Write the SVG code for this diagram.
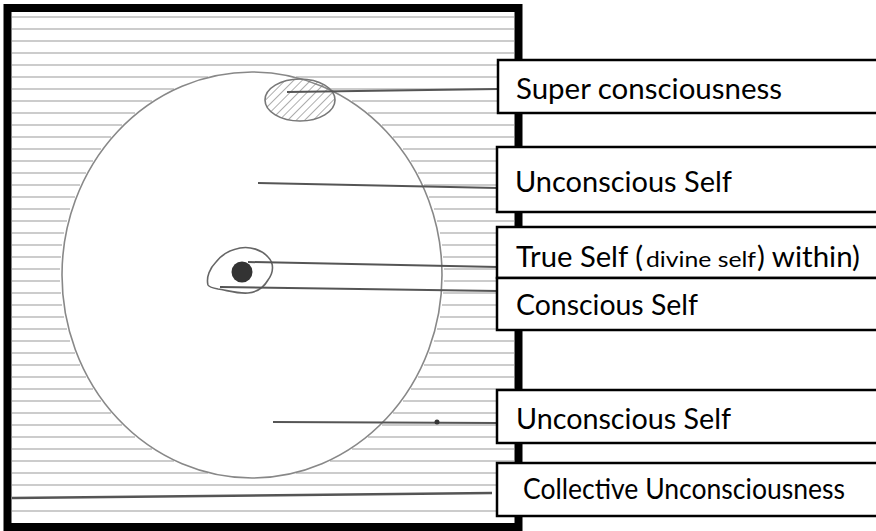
<svg xmlns="http://www.w3.org/2000/svg" width="876" height="531" viewBox="0 0 876 531">
<style>
.hatch{stroke:#9a9a9a;stroke-width:1.2;fill:none}
.conn{stroke:#555;stroke-width:2;fill:none}
.box{fill:#fff;stroke:#000;stroke-width:2.5}
.lbl{font-family:Lato,"Open Sans","Liberation Sans",sans-serif;font-size:29px;fill:#000}
.small{font-size:21px}
</style>
<defs>
<pattern id="diag" width="6" height="6" patternUnits="userSpaceOnUse" patternTransform="rotate(45)">
<line x1="0" y1="0" x2="0" y2="6" stroke="#777" stroke-width="1.2"/>
</pattern>
</defs>
<rect x="0" y="0" width="876" height="531" fill="#fff"/>
<g id="background">
<rect x="7.5" y="8" width="511" height="519" fill="#fff" stroke="#000" stroke-width="8"/>
<g class="hatch">
<path d="M12 17H514M12 29H514M12 41H514M12 53H514M12 65H514"/>
<path d="M12 77H208M296 77H514M12 89H174M330 89H514M12 101H152M352 101H514M12 113H135M368 113H514M12 125H122M382 125H514M12 137H111M393 137H514M12 149H101M403 149H514M12 161H93M411 161H514M12 173H86M418 173H514M12 185H80M424 185H514M12 197H75M429 197H514M12 209H70M434 209H514M12 221H67M437 221H514M12 233H64M440 233H514M12 245H62M442 245H514M12 257H61M443 257H514M12 269H60M444 269H514M12 281H60M444 281H514M12 293H61M443 293H514M12 305H62M442 305H514M12 317H64M440 317H514M12 329H67M437 329H514M12 341H70M434 341H514M12 353H75M429 353H514M12 365H80M424 365H514M12 377H86M418 377H514M12 389H93M411 389H514M12 401H101M403 401H514M12 413H111M393 413H514M12 425H122M382 425H514M12 437H135M368 437H514M12 449H152M352 449H514M12 461H174M330 461H514M12 473H208M296 473H514"/>
<path d="M12 485H514M12 511H514"/>
</g>
</g>
<g id="psyche">
<ellipse cx="252" cy="275" rx="190" ry="203" fill="#fff" stroke="#888" stroke-width="1.6"/>
</g>
<g id="super-ellipse">
<ellipse cx="300" cy="100" rx="35" ry="21" fill="url(#diag)" stroke="#777" stroke-width="1.6"/>
</g>
<g id="eye">
<path d="M208 285C206 277 210 268 216 262C222 254 230 250 240 248C250 246 262 250 268 257C274 263 274 272 268 280C264 287 258 292 248 293C238 294 226 290 218 289C212 288 209 287 208 285Z" fill="none" stroke="#666" stroke-width="1.6"/>
<circle cx="242" cy="272" r="10.5" fill="#333"/>
</g>
<g id="connectors" class="conn">
<line x1="287" y1="92" x2="498" y2="89"/>
<line x1="258" y1="183" x2="498" y2="188"/>
<line x1="248" y1="262" x2="498" y2="267"/>
<line x1="220" y1="287" x2="498" y2="291"/>
<line x1="273" y1="422" x2="498" y2="423"/>
<circle cx="437" cy="422" r="2.5" fill="#333" stroke="none"/>
<line x1="12" y1="498" x2="492" y2="493" stroke-width="2.5"/>
</g>
<g id="label-super">
<rect class="box" x="498" y="60" width="390" height="53"/>
<text class="lbl" x="516" y="99" textLength="266" lengthAdjust="spacingAndGlyphs">Super consciousness</text>
</g>
<g id="label-unconscious-upper">
<rect class="box" x="497" y="147" width="390" height="65"/>
<text class="lbl" x="515" y="192" textLength="217" lengthAdjust="spacingAndGlyphs">Unconscious Self</text>
</g>
<g id="label-true-self">
<rect class="box" x="497" y="227" width="390" height="51"/>
<text class="lbl" y="267"><tspan x="516" textLength="127" lengthAdjust="spacingAndGlyphs">True Self (</tspan><tspan class="small" x="646" textLength="110" lengthAdjust="spacingAndGlyphs">divine self</tspan><tspan x="757" textLength="103" lengthAdjust="spacingAndGlyphs">) within)</tspan></text>
</g>
<g id="label-conscious">
<rect class="box" x="497" y="278" width="390" height="52"/>
<text class="lbl" x="516" y="315" textLength="182" lengthAdjust="spacingAndGlyphs">Conscious Self</text>
</g>
<g id="label-unconscious-lower">
<rect class="box" x="497" y="390" width="390" height="53"/>
<text class="lbl" x="516" y="429" textLength="215" lengthAdjust="spacingAndGlyphs">Unconscious Self</text>
</g>
<g id="label-collective">
<rect class="box" x="497" y="463" width="390" height="53"/>
<text class="lbl" x="523" y="499" font-size="27" textLength="322" lengthAdjust="spacingAndGlyphs">Collective Unconsciousness</text>
</g>
</svg>
